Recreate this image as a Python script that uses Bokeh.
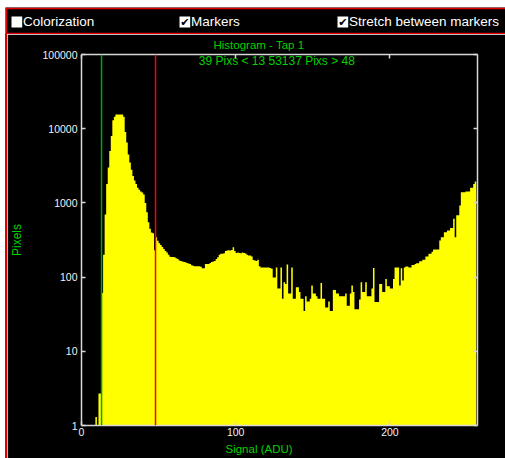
from bokeh.plotting import figure
from bokeh.layouts import column, row
from bokeh.models import (Range1d, LinearAxis, LogAxis, FixedTicker, Span, Label, Title,
                          BoxAnnotation, BasicTickFormatter, CustomJSTickFormatter,
                          ColumnDataSource, Spacer)
from bokeh.embed import file_html
from bokeh.resources import INLINE

# ---------------- data ----------------
counts = [
    0, 0, 0, 0, 0, 0, 0, 0, 0, 1.3, 0, 2.7, 2.7, 61, 200, 700,
    1800, 3000, 5000, 8000, 13000, 14500, 15500, 15500, 15500, 15500, 15500, 14500, 9000, 6500, 4500, 3500,
    2800, 2300, 2000, 1800, 1600, 1500, 1420, 1380, 1300, 1000, 750, 550, 450, 400, 390, 230,
    345, 310, 285, 270, 255, 240, 225, 215, 200, 188, 186, 186, 185, 180, 175, 167,
    165, 162, 160, 158, 155, 152, 150, 145, 142, 140, 140, 140, 140, 138, 132, 132,
    150, 150, 150, 155, 160, 162, 165, 176, 185, 200, 206, 206, 210, 225, 228, 230,
    228, 232, 253, 225, 212, 215, 212, 210, 215, 212, 208, 200, 195, 195, 190, 170,
    167, 165, 171, 140, 135, 135, 135, 135, 135, 135, 133, 130, 99, 99, 135, 70,
    70, 135, 51, 85, 81, 148, 60, 60, 135, 51, 51, 73, 73, 63, 51, 51,
    35, 55, 47, 47, 51, 77, 60, 60, 55, 51, 51, 83, 51, 51, 39, 39,
    47, 35, 35, 67, 67, 60, 60, 55, 55, 55, 55, 60, 41, 41, 60, 77,
    63, 37, 37, 37, 50, 85, 63, 63, 85, 55, 55, 55, 70, 133, 46, 46,
    46, 81, 81, 63, 63, 94, 75, 75, 70, 70, 94, 135, 135, 135, 77, 132,
    90, 135, 139, 139, 135, 135, 146, 146, 150, 154, 154, 163, 163, 171, 171, 189,
    189, 206, 206, 220, 236, 236, 236, 236, 311, 345, 345, 403, 403, 425, 425, 458,
    458, 610, 345, 680, 680, 920, 1390, 1390, 1390, 1420, 1420, 1420, 1600, 1600, 1800, 1950,
]
assert len(counts) == 256
bins = list(range(len(counts)))

markers = [13, 48]
marker_colors = ["#00a800", "#ff0000"]
x_ticks = [0, 100, 200]
y_ticks = [1, 10, 100, 1000, 10000, 100000]

title_text = "Histogram - Tap 1"
stats_text = "39 Pixs < 13  53137 Pixs > 48"
x_label = "Signal (ADU)"
y_label = "Pixels"
checkbox_labels = ["Colorization", "Markers", "Stretch between markers"]
checkbox_states = [False, True, True]

# ---------------- style constants ----------------
GREEN = "#00d200"
RED = "#e00000"
AXC = "#d8d8d8"
FONT = "Liberation Sans"

# ---------------- top strip with check boxes ----------------
SW, SH = 500, 27
strip = figure(width=SW, height=SH, output_backend="svg", toolbar_location=None,
               x_range=Range1d(0, SW), y_range=Range1d(0, SH),
               x_axis_location=None, y_axis_location=None,
               background_fill_color="black", border_fill_color="black",
               outline_line_color=None, min_border=0)
strip.grid.visible = False


def sbox(X0, Y0, X1, Y1, color):
    strip.add_layout(BoxAnnotation(left=X0, right=X1, top=SH - Y0, bottom=SH - Y1,
                                   left_units="screen", right_units="screen",
                                   top_units="screen", bottom_units="screen",
                                   fill_color=color, fill_alpha=1, line_color=None,
                                   level="annotation"))


def slab(X, Y, text, color, size, align="left", font=FONT):
    strip.add_layout(Label(x=X, y=SH - Y, x_units="screen", y_units="screen",
                           text=text, text_color=color, text_font_size=size,
                           text_align=align, text_baseline="middle", text_font=font,
                           level="overlay"))


sbox(0, 0, SW, 1.7, RED)
sbox(0, 0, 1.7, SH, RED)
sbox(0, SH - 1.7, SW, SH, RED)
for X0, text, state in zip([6, 174, 332], checkbox_labels, checkbox_states):
    sbox(X0, 9, X0 + 10.7, 20, "white")
    if state:
        slab(X0 + 5.4, 14.6, "\u2714", "black", "11px", align="center", font="DejaVu Sans")
    slab(X0 + 11.5, 14.4, text, "white", "13.5px")

# ---------------- main histogram figure ----------------
W, H = 498, 424
FL, FT, FR, FB = 73, 20, 470, 391   # frame edges on this canvas

p = figure(width=W, height=H, output_backend="svg", toolbar_location=None,
           x_range=Range1d(0, 256.8), y_range=Range1d(1, 100000),
           y_axis_type="log",
           background_fill_color="black", border_fill_color="black",
           outline_line_color=None,
           min_border_left=FL, min_border_right=W - FR,
           min_border_top=FT, min_border_bottom=H - FB)
p.grid.visible = False


def style_axis(ax, labels):
    ax.axis_line_color = AXC
    ax.axis_line_width = 1.5
    ax.major_tick_line_color = AXC
    ax.major_tick_line_width = 1.5
    ax.major_tick_in = 4
    ax.major_tick_out = 0
    ax.minor_tick_line_color = None
    ax.major_label_text_font = FONT
    ax.major_label_text_font_size = "10.5px"
    ax.major_label_text_color = "#f2f2f2"
    if not labels:
        ax.formatter = CustomJSTickFormatter(code="return ''")
        ax.major_label_standoff = 0
        ax.major_label_text_font_size = "0px"


xb = p.xaxis[0]
xb.ticker = FixedTicker(ticks=x_ticks, minor_ticks=[])
style_axis(xb, True)
xb.major_label_standoff = 2

yl = p.yaxis[0]
yl.ticker = FixedTicker(ticks=y_ticks, minor_ticks=[])
yl.formatter = BasicTickFormatter(use_scientific=False)
style_axis(yl, True)
yl.major_label_standoff = 4
yl.axis_label = y_label
yl.axis_label_text_color = GREEN
yl.axis_label_text_font = FONT
yl.axis_label_text_font_size = "12px"
yl.axis_label_text_font_style = "normal"
yl.axis_label_standoff = 15

xt = LinearAxis(ticker=FixedTicker(ticks=x_ticks, minor_ticks=[]))
style_axis(xt, False)
p.add_layout(xt, "above")

yr = LogAxis(ticker=FixedTicker(ticks=y_ticks, minor_ticks=[]))
style_axis(yr, False)
p.add_layout(yr, "right")

p.title.text = title_text
p.title.align = "left"
p.title.offset = 132
p.title.standoff = 4
p.title.vertical_align = "top"
p.title.text_color = GREEN
p.title.text_font = FONT
p.title.text_font_size = "11.5px"
p.title.text_font_style = "normal"

p.add_layout(Title(text=x_label, align="left", offset=144, standoff=5,
                   text_color=GREEN, text_font=FONT, text_font_size="11.5px",
                   text_font_style="normal"), "below")

# histogram as one step area (no seams between the bins)
edges = bins + [bins[-1] + 1]
heights = [max(c, 1) for c in counts]
heights = heights + [heights[-1]]
p.varea_step(x=edges, y1=1, y2=heights, step_mode="after", fill_color="#ffff00")

for m, c in zip(markers, marker_colors):
    p.add_layout(Span(location=m, dimension="height", line_color=c, line_width=1.5))

p.add_layout(Label(x=270 - FL, y=FB - 26, x_units="screen", y_units="screen",
                   text=stats_text, text_color=GREEN, text_font=FONT,
                   text_font_size="12px", text_align="center", text_baseline="middle"))

red_edge = Spacer(width=2, height=H, styles={"background-color": RED})

layout = column(
    Spacer(width=505, height=7),
    row(Spacer(width=5, height=SH + H), column(strip, row(red_edge, p))),
)

open("out.html", "w").write(file_html(layout, INLINE))
